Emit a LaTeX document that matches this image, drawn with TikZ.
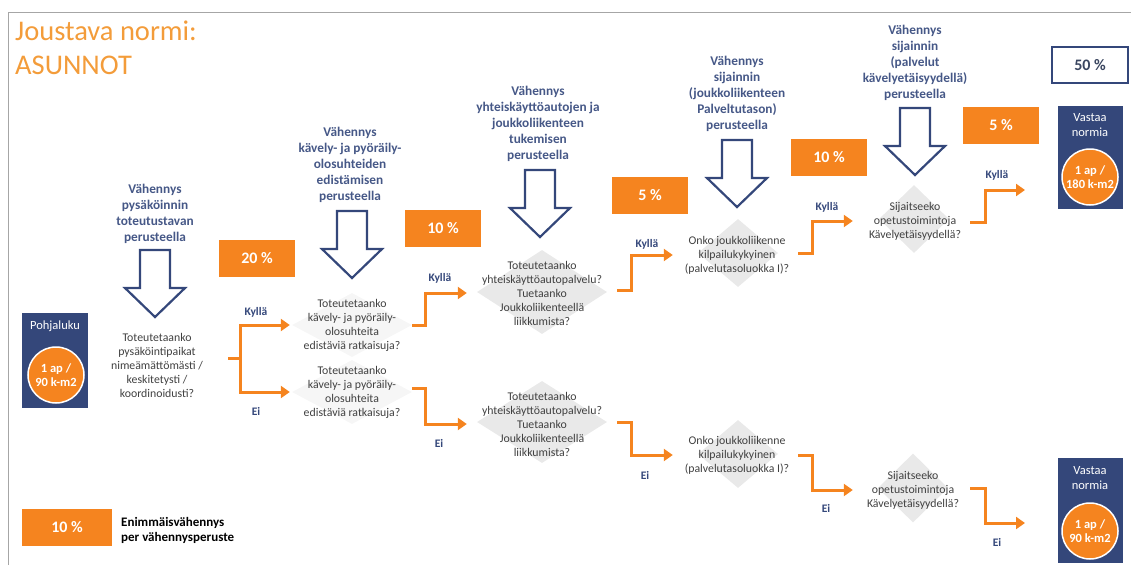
\documentclass[tikz,border=0pt]{standalone}
\usepackage{fontspec}
\setmainfont{Carlito}
\usetikzlibrary{arrows.meta,shapes.geometric}

\definecolor{navy}{HTML}{34477A}
\definecolor{headblue}{HTML}{465887}
\definecolor{darknavy}{HTML}{3A4660}
\definecolor{orng}{HTML}{F5841F}
\definecolor{titleorange}{HTML}{F39C3A}
\definecolor{qgray}{HTML}{404040}
\definecolor{dgray}{HTML}{E9E9E9}
\definecolor{lgray}{HTML}{F6F6F6}
\definecolor{framegray}{HTML}{A6A6A6}

\tikzset{
  heading/.style={font=\fontsize{13.3}{16}\selectfont\bfseries, text=headblue, align=center, inner sep=0},
  question/.style={font=\fontsize{11.8}{14}\selectfont, text=qgray, align=center, inner sep=0, minimum width=#1},
  pct/.style={fill=orng, minimum width=76, minimum height=37, inner sep=0,
              font=\fontsize{16}{16}\selectfont\bfseries, text=white},
  yn/.style={font=\fontsize{11.5}{12}\selectfont\bfseries, text=navy, inner sep=0},
  flow/.style={draw=orng, line width=3pt, line join=miter, -{Triangle[length=9pt,width=12pt]}},
  navybox/.style={fill=navy, draw=none, inner sep=0},
  boxlabel/.style={font=\fontsize{12.5}{15}\selectfont, text=white, align=center, inner sep=0},
  badge/.style={circle, fill=orng, draw=white, line width=1.5pt, minimum size=56, inner sep=0,
                text=white, align=center, font=\fontsize{12.5}{14}\selectfont\bfseries},
  diam/.style={diamond, draw=none, inner sep=0},
  titletext/.style={font=\fontsize{28.5}{33}\selectfont, text=titleorange, inner sep=0},
  downarrow/.pic={\draw[navy, line width=2.2pt, fill=white, line join=miter]
      (-15,0) -- (15,0) -- (15,38) -- (30,38) -- (0,67) -- (-30,38) -- (-15,38) -- cycle;}
}

\begin{document}
\begin{tikzpicture}[x=1pt,y=-1pt]
\useasboundingbox (0,0) rectangle (1131,565);

% frame
\draw[framegray, line width=1pt] (8,565) -- (8,12) -- (1131,12);

% title
\node[titletext, anchor=base west] (t1) at (15,40) {Joustava normi:};
\node[titletext, anchor=base west] (t2) at (15,74) {ASUNNOT};

% faint decision diamonds
\node[diam, fill=lgray, minimum width=120, minimum height=64] (d2a) at (352,325) {};
\node[diam, fill=lgray, minimum width=120, minimum height=64] (d2b) at (352,392) {};
\node[diam, fill=dgray, minimum width=130, minimum height=84] (d3a) at (542,292) {};
\node[diam, fill=dgray, minimum width=130, minimum height=82] (d3b) at (542,422) {};
\node[diam, fill=dgray, minimum width=80, minimum height=68] (d4a) at (738,253) {};
\node[diam, fill=dgray, minimum width=80, minimum height=68] (d4b) at (738,454) {};
\node[diam, fill=dgray, minimum width=70, minimum height=68] (d5a) at (914,219) {};
\node[diam, fill=dgray, minimum width=70, minimum height=69] (d5b) at (913,488) {};

% base value
\node[navybox, minimum width=66, minimum height=95] (pb) at (55,360) {};
\node[boxlabel] (pbl) at (55,326) {Pohjaluku};
\node[badge] (pc) at (56,375) {1 ap /\\90 k-m2};

% reduction headings and their arrows
\node[heading] (h1) at (155,214) {Vähennys\\pysäköinnin\\toteutustavan\\perusteella};
\node[heading] (h2) at (350,165) {Vähennys\\kävely- ja pyöräily-\\olosuhteiden\\edistämisen\\perusteella};
\node[heading] (h3) at (538,124) {Vähennys\\yhteiskäyttöautojen ja\\joukkoliikenteen\\tukemisen\\perusteella};
\node[heading] (h4) at (737,94) {Vähennys\\sijainnin\\(joukkoliikenteen\\Palveltutason)\\perusteella};
\node[heading] (h5) at (915,63) {Vähennys\\sijainnin\\(palvelut\\kävelyetäisyydellä)\\perusteella};

\pic (a1) at (155,250) {downarrow};
\pic (a2) at (352,211) {downarrow};
\pic (a3) at (540,170) {downarrow};
\pic (a4) at (737,140) {downarrow};
\pic (a5) at (915,108) {downarrow};

% maximum reductions
\node[pct] (p1) at (257,258) {20 \%};
\node[pct] (p2) at (443,228) {10 \%};
\node[pct] (p3) at (650,195) {5 \%};
\node[pct] (p4) at (829,157) {10 \%};
\node[pct] (p5) at (1001,125) {5 \%};
\node[draw=navy, line width=1.5pt, fill=white, minimum width=76, minimum height=36, inner sep=0,
      font=\fontsize{16}{16}\selectfont\bfseries, text=darknavy] (tot) at (1090,65) {50 \%};

% questions
\node[question=92] (q1) at (157,365) {Toteutetaanko\\pysäköintipaikat\\nimeämättömästi /\\keskitetysti /\\koordinoidusti?};
\node[question=106] (q2a) at (352,325) {Toteutetaanko\\kävely- ja pyöräily-\\olosuhteita\\edistäviä ratkaisuja?};
\node[question=106] (q2b) at (352,392) {Toteutetaanko\\kävely- ja pyöräily-\\olosuhteita\\edistäviä ratkaisuja?};
\node[question=124] (q3a) at (542,293) {Toteutetaanko\\yhteiskäyttöautopalvelu?\\Tuetaanko\\Joukkoliikenteellä\\liikkumista?};
\node[question=124] (q3b) at (542,424) {Toteutetaanko\\yhteiskäyttöautopalvelu?\\Tuetaanko\\Joukkoliikenteellä\\liikkumista?};
\node[question=106] (q4a) at (737,255) {Onko joukkoliikenne\\kilpailukykyinen\\(palvelutasoluokka I)?};
\node[question=106] (q4b) at (737,455) {Onko joukkoliikenne\\kilpailukykyinen\\(palvelutasoluokka I)?};
\node[question=94] (q5a) at (915,221) {Sijaitseeko\\opetustoimintoja\\Kävelyetäisyydellä?};
\node[question=94] (q5b) at (913,490) {Sijaitseeko\\opetustoimintoja\\Kävelyetäisyydellä?};

% results
\node[navybox, minimum width=65, minimum height=103] (v1) at (1090,157) {};
\node[boxlabel] (v1l) at (1090,125) {Vastaa\\normia};
\node[badge] (v1c) at (1090,177) {1 ap /\\180 k-m2};
\node[navybox, minimum width=65, minimum height=105] (v2) at (1090,510) {};
\node[boxlabel] (v2l) at (1090,478) {Vastaa\\normia};
\node[badge] (v2c) at (1090,531) {1 ap /\\90 k-m2};

% yes / no labels
\node[yn] (k1) at (256,312) {Kyllä};
\node[yn] (n1) at (256,411) {Ei};
\node[yn] (k2) at (440,278) {Kyllä};
\node[yn] (n2) at (439,443) {Ei};
\node[yn] (k3) at (647,244) {Kyllä};
\node[yn] (n3) at (645,475) {Ei};
\node[yn] (k4) at (827,207) {Kyllä};
\node[yn] (n4) at (826,508) {Ei};
\node[yn] (k5) at (997,175) {Kyllä};
\node[yn] (n5) at (997,542) {Ei};

% flow connectors
\coordinate (f1) at (240,358);
\coordinate (e1) at (1025,190);
\coordinate (e2) at (1025,523);

\draw[draw=orng, line width=3pt] (q1.east) ++(25,-7) -- (f1);
\draw[flow, shorten >=9pt] (f1) |- (q2a.west);
\draw[flow, shorten >=9pt] (f1) |- (q2b.west);

\draw[flow, shorten >=13pt] (q2a.east) ++(7,0) -- ++(13,0) |- (q3a.west);
\draw[flow, shorten >=13pt] (q2b.east) ++(7,-4) -- ++(13,0) |- (q3b.west);

\draw[flow, shorten >=11pt] (q3a.east) ++(13,-3) -- ++(14,0) |- (q4a.west);
\draw[flow, shorten >=11pt] (q3b.east) ++(13,-2) -- ++(14,0) |- (q4b.west);

\draw[flow, shorten >=15pt] (q4a.east) ++(8,-2) -- ++(14,0) |- (q5a.west);
\draw[flow, shorten >=13pt] (q4b.east) ++(8,0) -- ++(14,0) |- (q5b.west);

\draw[flow] (q5a.east) ++(8,1) -- ++(15,0) |- (e1);
\draw[flow] (q5b.east) ++(10,-2) -- ++(15,0) |- (e2);

% legend
\node[pct, minimum width=90] (lg) at (67,527) {10 \%};
\node[anchor=west, inner sep=0, align=left, font=\fontsize{13}{15}\selectfont\bfseries] (lgt) at (121,530)
  {Enimmäisvähennys\\per vähennysperuste};
\end{tikzpicture}
\end{document}
